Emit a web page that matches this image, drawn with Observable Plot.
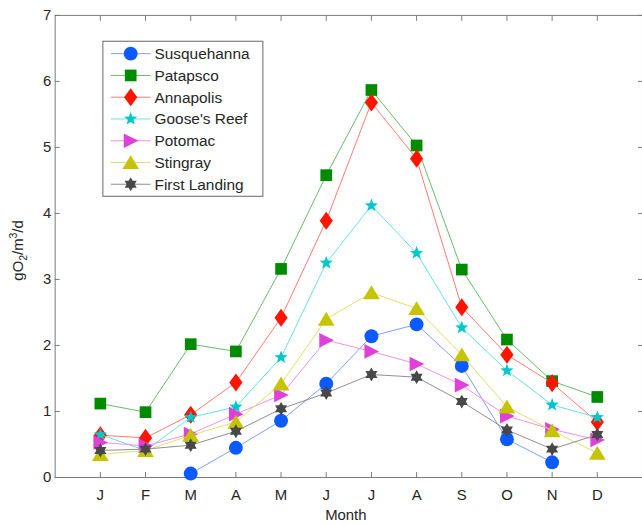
<!DOCTYPE html>
<html><head><meta charset="utf-8">
<script src="https://cdn.jsdelivr.net/npm/d3@7"></script>
<script src="https://cdn.jsdelivr.net/npm/@observablehq/plot@0.6"></script>
<style>
html,body{margin:0;padding:0;background:#fff;overflow:hidden}
#chart{width:642px;height:525px;overflow:hidden;position:relative}
#chart svg{overflow:visible}
</style></head><body><div id="chart"></div>
<script>
const monthLabels = ["J","F","M","A","M","J","J","A","S","O","N","D"];
const monthIndex = [1,2,3,4,5,6,7,8,9,10,11,12];
const yTicks = [0,1,2,3,4,5,6,7];
const seriesNames = ["Susquehanna","Patapsco","Annapolis","Goose's Reef","Potomac","Stingray","First Landing"];
const susquehanna = [null,null,0.06,0.45,0.86,1.42,2.14,2.32,1.69,0.58,0.23,null];
const patapsco    = [1.12,0.99,2.02,1.91,3.16,4.58,5.87,5.03,3.15,2.09,1.46,1.22];
const annapolis   = [0.64,0.60,0.95,1.44,2.42,3.89,5.68,4.83,2.58,1.86,1.43,0.84];
const goosesReef  = [0.65,0.41,0.91,1.07,1.82,3.25,4.12,3.40,2.27,1.62,1.10,0.91];
const potomac     = [0.53,0.48,0.66,0.96,1.25,2.08,1.91,1.72,1.40,0.93,0.73,0.57];
const stingray    = [0.35,0.41,0.64,0.84,1.42,2.40,2.80,2.56,1.86,1.07,0.71,0.37];
const firstLanding= [0.41,0.43,0.49,0.70,1.04,1.28,1.56,1.52,1.15,0.72,0.43,0.65];
const seriesValues = [susquehanna,patapsco,annapolis,goosesReef,potomac,stingray,firstLanding];
const markerColors = ["#0a5aff","#008a00","#ff1400","#00c8c8","#e040d8","#c4c400","#484848"];
const lineColors   = ["#7f9bff","#66bb66","#ff7a6e","#66e0e0","#ee90e8","#dede6a","#8e8e8e"];

const R = s => Math.sqrt(s / Math.PI);
const symCircle = {draw(c,s){const r=R(s); c.moveTo(r,0); c.arc(0,0,r,0,2*Math.PI);}};
const symSquare = {draw(c,s){const r=R(s)*0.84; c.rect(-r,-r,2*r,2*r);}};
const symDiamond = {draw(c,s){const r=R(s); const w=r*0.95,h=r*1.3; c.moveTo(0,-h); c.lineTo(w,0); c.lineTo(0,h); c.lineTo(-w,0); c.closePath();}};
function starPath(c, n, ro, ri, rot){for(let i=0;i<2*n;i++){const a=rot+i*Math.PI/n; const rr=i%2?ri:ro; const x=rr*Math.cos(a), y=rr*Math.sin(a); i?c.lineTo(x,y):c.moveTo(x,y);} c.closePath();}
const symStar = {draw(c,s){const r=R(s)*1.0; starPath(c,5,r,r*0.42,-Math.PI/2);}};
const symTriRight = {draw(c,s){const r=R(s); c.moveTo(r*1.1,0); c.lineTo(-r*1.0,-r*1.05); c.lineTo(-r*1.0,r*1.05); c.closePath();}};
const symTriUp = {draw(c,s){const r=R(s); c.moveTo(0,-r*1.05); c.lineTo(r*1.2,r*0.95); c.lineTo(-r*1.2,r*0.95); c.closePath();}};
const symHexagram = {draw(c,s){const r=R(s); starPath(c,6,r,r*0.58,-Math.PI/2);}};
const seriesSymbols = [symCircle,symSquare,symDiamond,symStar,symTriRight,symTriUp,symHexagram];

const font = "'Liberation Sans', Arial, Helvetica, sans-serif";
const axisGray = "#7a7a7a";

const seriesMarks = seriesNames.flatMap((name, k) => {
  const rows = monthIndex.map((m, i) => ({month: m, value: seriesValues[k][i], series: name}));
  return [
    Plot.line(rows, {x: "month", y: "value", stroke: lineColors[k], strokeWidth: 1}),
    Plot.dot(rows.filter(d => d.value != null), {x: "month", y: "value", r: 7, symbol: seriesSymbols[k], fill: markerColors[k], stroke: "none"})
  ];
});

const plot = Plot.plot({
  width: 646, height: 525,
  marginLeft: 55, marginRight: 0, marginTop: 15, marginBottom: 45,
  style: {fontFamily: font, fontSize: "15px", background: "white", color: "#262626"},
  x: {domain: [0, 13], label: null},
  y: {domain: [0, 7], label: null},
  marks: [
    Plot.frame({stroke: axisGray}),
    Plot.axisX({ticks: monthIndex, tickFormat: d => monthLabels[d - 1], tickSize: 0, tickPadding: 12, label: null, fontSize: 15, color: "#262626"}),
    Plot.axisX({ticks: monthIndex, tickFormat: () => "", tickSize: 5, dy: -5, label: null, color: axisGray}),
    Plot.axisX({anchor: "top", ticks: monthIndex, tickFormat: () => "", tickSize: 5, dy: 5, label: null, color: axisGray}),
    Plot.axisY({ticks: yTicks, tickFormat: d3.format("d"), tickSize: 0, tickPadding: 4, label: null, fontSize: 15, color: "#262626"}),
    Plot.axisY({ticks: yTicks, tickFormat: () => "", tickSize: 5, dx: 5, label: null, color: axisGray}),
    Plot.axisY({anchor: "right", ticks: yTicks, tickFormat: () => "", tickSize: 5, dx: -5, label: null, color: axisGray}),
    ...seriesMarks
  ]
});
document.getElementById("chart").appendChild(plot);

const svg = d3.select(plot);
// x-axis title
svg.append("text").attr("x", 348).attr("y", 523).attr("text-anchor", "middle")
  .attr("font-family", font).attr("font-size", 15).attr("fill", "#262626").text("Month");
// y-axis title with sub/superscript
const yl = svg.append("text").attr("transform", "translate(23.5,252) rotate(-90)").attr("text-anchor", "middle")
  .attr("font-family", font).attr("font-size", 15).attr("fill", "#262626");
yl.append("tspan").text("gO");
yl.append("tspan").attr("font-size", 10.5).attr("dy", 4).text("2");
yl.append("tspan").attr("dy", -4).text("/m");
yl.append("tspan").attr("font-size", 10.5).attr("dy", -6).text("3");
yl.append("tspan").attr("dy", 6).text("/d");

// legend
const lg = svg.append("g").attr("transform", "translate(103.5,41.5)");
lg.append("rect").attr("width", 161).attr("height", 156).attr("fill", "white").attr("stroke", "#666").attr("stroke-width", 1);
seriesNames.forEach((name, k) => {
  const y = 12.5 + k * 21.9;
  const row = lg.append("g").attr("transform", `translate(0,${y})`);
  row.append("line").attr("x1", 8).attr("x2", 48).attr("y1", 0).attr("y2", 0).attr("stroke", lineColors[k]).attr("stroke-width", 1);
  row.append("path").attr("transform", "translate(28,0)").attr("d", d3.symbol(seriesSymbols[k], Math.PI * 49)()).attr("fill", markerColors[k]);
  row.append("text").attr("x", 52).attr("y", 0).attr("dy", "0.35em").attr("text-anchor", "start").attr("font-family", font).attr("font-size", 15.5).attr("fill", "#262626").text(name);
});
</script>
</body></html>
